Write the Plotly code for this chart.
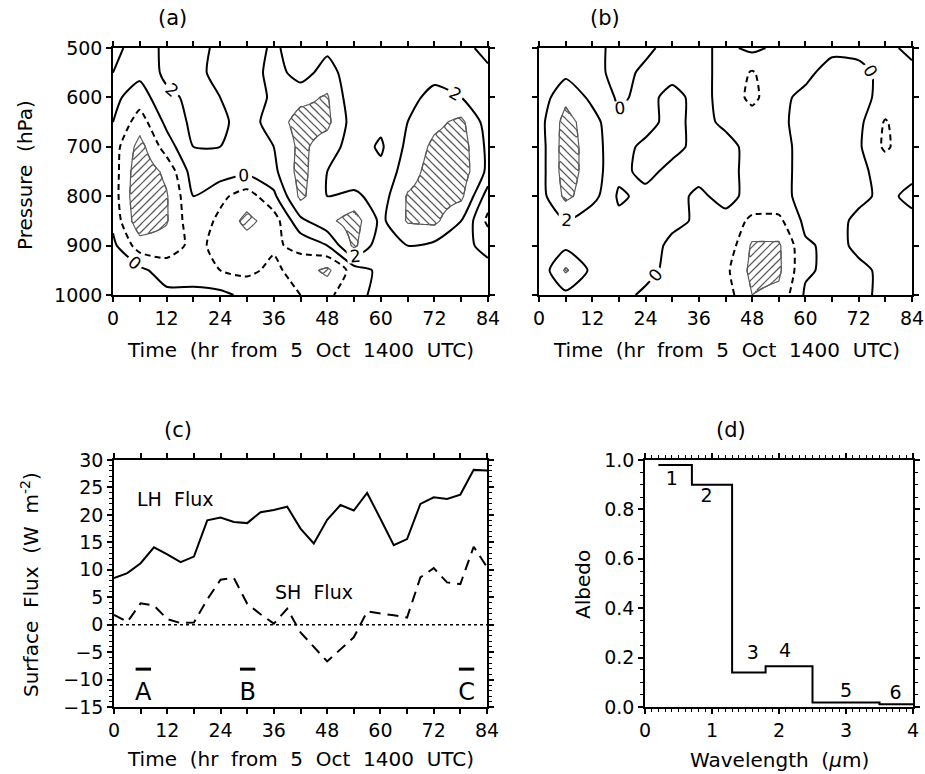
import numpy as np
import plotly.graph_objects as go

# ---------------- data ----------------
time_hours = [0, 6, 12, 18, 24, 30, 36, 42, 48, 54, 60, 66, 72, 78, 84]
pressure_levels = [500, 550, 600, 650, 700, 750, 800, 850, 900, 950, 1000]

# panel (a) field, rows = pressure levels, cols = time
anom_a = [
    [-0.5, 0.8, 2.5, 2.8, 1.5, 0.5, 2.5, 0.5, 1.5, 0.5, 1.0, 0.5, 1.0, 0.5, -0.5],
    [0.0, 0.5, 2.5, 3.0, 1.0, 0.5, 3.0, 1.0, 3.0, 0.5, 1.0, 1.0, 1.5, 0.8, 0.3],
    [0.5, -1.0, 1.5, 2.5, 2.0, 0.5, 2.5, 3.5, 4.2, 0.5, 1.0, 1.5, 2.5, 2.0, 0.5],
    [0.0, -3.0, 0.5, 2.5, 2.5, 1.0, 3.0, 4.8, 4.5, 1.0, 0.5, 2.0, 3.5, 4.5, 1.0],
    [-1.0, -4.8, -1.0, 2.0, 2.0, 1.0, 2.0, 4.5, 3.0, 1.0, -0.3, 2.5, 4.5, 5.0, 1.5],
    [-1.0, -5.5, -3.5, 1.0, 1.0, 0.5, 1.5, 4.8, 2.0, 0.5, 0.5, 3.0, 5.0, 5.2, 1.5],
    [-1.0, -5.8, -4.2, 0.0, -1.5, -3.0, -0.5, 4.5, 2.0, 2.5, 1.0, 4.2, 5.0, 4.5, -1.0],
    [-0.5, -5.5, -4.2, -0.5, -2.5, -4.6, -3.0, 1.5, 3.5, 5.0, 1.5, 4.2, 4.5, 2.0, -2.5],
    [0.5, -3.0, -3.0, -1.5, -2.5, -3.0, -2.3, -1.5, 0.0, 4.5, 0.5, 2.0, 1.5, 0.5, -0.5],
    [1.0, 0.5, -1.0, -1.0, -2.0, -2.5, -1.5, -3.0, -4.5, -1.0, 0.5, 0.5, 0.5, 1.0, 0.5],
    [0.5, 1.5, 0.5, 0.5, 0.5, -0.5, -0.5, -2.0, -2.5, -0.5, 0.5, 1.5, 0.5, 0.5, 0.5],
]

# panel (b) field
anom_b = [
    [0.5, 1.0, 0.5, -0.5, -0.3, 0.5, 0.5, -0.5, 0.5, -0.5, -0.3, -0.3, -0.3, -0.3, 0.3],
    [0.5, 1.5, 0.5, -0.5, 0.3, 0.5, 0.5, -0.5, -2.2, -0.5, -0.3, 0.5, 0.3, -0.3, -0.3],
    [0.8, 3.5, 1.5, -0.3, 0.5, -0.5, 0.5, -0.5, -2.6, -0.3, 0.3, 0.5, 0.5, -0.5, -0.3],
    [1.2, 4.8, 2.8, 0.3, 0.5, -0.5, 0.5, -0.3, -0.8, -0.3, 0.5, 0.5, 0.5, -2.2, -0.3],
    [1.0, 5.0, 3.0, 0.5, -0.3, -0.5, 0.5, 0.5, -0.5, -0.5, 0.5, 0.5, 0.3, -2.4, -0.3],
    [1.0, 5.0, 3.0, 0.5, -0.5, 0.5, 0.5, 0.5, -0.5, -0.5, 0.5, 0.5, 0.3, -0.5, -0.3],
    [1.0, 4.5, 2.8, -0.3, 0.5, 0.5, -0.3, 0.5, -0.5, -0.5, 0.5, 0.5, 0.3, -0.3, 0.3],
    [1.5, 2.0, 0.5, 0.5, 0.5, 0.5, -0.3, -0.5, -2.5, -2.5, 0.5, 0.5, -0.3, -0.3, -0.3],
    [0.5, 1.5, 1.5, 1.0, 1.0, -0.5, -0.5, -0.5, -4.3, -4.3, -0.3, 0.5, -0.3, -0.3, -0.3],
    [0.5, 4.3, 1.5, 1.0, 0.5, -0.5, -0.5, -1.5, -4.6, -4.4, -0.3, 0.5, 0.3, -0.3, -0.3],
    [0.5, 1.5, 1.0, 0.5, -0.3, -0.3, -0.5, -1.0, -4.0, -3.5, 0.3, 0.5, 0.3, -0.3, -0.3],
]

# panel (c) surface fluxes
flux_hours = list(range(0, 85, 3))
lh_flux = [8.5, 9.4, 11.2, 14.1, 12.8, 11.4, 12.4, 19.0, 19.5, 18.7, 18.5, 20.5, 20.9, 21.5,
           17.5, 14.8, 19.1, 21.8, 20.8, 24.0, 19.3, 14.5, 15.6, 22.0, 23.2, 22.9, 23.7, 28.2, 28.1]
sh_flux = [1.8, 0.5, 3.9, 3.5, 1.0, 0.3, 0.4, 4.6, 8.2, 8.5, 3.8, 1.9, 0.2, 2.9,
           -1.4, -4.0, -6.7, -4.5, -2.3, 2.4, 2.1, 1.7, 1.3, 8.6, 10.3, 7.7, 7.4, 14.2, 10.5]
event_hours = [6.6, 30.1, 79.4]
event_names = ["A", "B", "C"]
event_bar_level = -8.1
event_name_level = -12.6

# panel (d) albedo per band
band_edges = [0.2, 0.7, 1.3, 1.8, 2.5, 3.5, 4.0]
band_albedo = [0.98, 0.90, 0.14, 0.165, 0.018, 0.011]
band_ids = ["1", "2", "3", "4", "5", "6"]
band_label_x = [0.40, 0.92, 1.61, 2.09, 3.0, 3.74]
band_label_y = [0.92, 0.85, 0.214, 0.22, 0.058, 0.051]

# ---------------- layout helpers ----------------
W, H = 925, 774
FONT = "DejaVu Sans"


def px(x):
    return x / W


def py(y):
    return 1 - y / H


dom = {
    "a": ([px(113), px(488)], [py(295), py(48)]),
    "b": ([px(539), px(912)], [py(295), py(48)]),
    "c": ([px(114), px(487)], [py(707), py(460)]),
    "d": ([px(645), px(913)], [py(707), py(460)]),
}


def bilinear(z, xs, ys, xf, yf):
    tmp = np.array([np.interp(xf, xs, row) for row in z])
    return np.array([np.interp(yf, ys, tmp[:, j]) for j in range(len(xf))]).T


def contour_panel(fig, z, xa, ya, wpx, hpx):
    z = np.array(z, dtype=float)
    tf = np.linspace(0, 84, 211)
    pf = np.linspace(500, 1000, 141)
    zf = bilinear(z, np.array(time_hours, float), np.array(pressure_levels, float), tf, pf)
    TX, PY = np.meshgrid(tf / 84 * wpx, (pf - 500) / 500 * hpx)
    period = 16.0
    pos = np.minimum(np.cos(2 * np.pi * (TX - PY) / period), 2 * (zf - 4))
    neg = np.minimum(np.cos(2 * np.pi * (TX + PY) / period), 2 * (-4 - zf))
    hatch = np.where(zf > 0, pos, neg)
    common = dict(x=time_hours, y=pressure_levels, xaxis=xa, yaxis=ya,
                  showscale=False, hoverinfo="skip", autocontour=False)
    fig.add_trace(go.Contour(x=tf, y=pf, z=hatch, xaxis=xa, yaxis=ya, showscale=False,
                             hoverinfo="skip", autocontour=False,
                             contours=dict(start=0, end=0, size=1, coloring="none"),
                             line=dict(color="#5a5a5a", width=1.3, smoothing=0)))
    fig.add_trace(go.Contour(x=tf, y=pf, z=zf, xaxis=xa, yaxis=ya, showscale=False,
                             hoverinfo="skip", autocontour=False,
                             contours=dict(start=-4, end=4, size=8, coloring="none"),
                             line=dict(color="#5a5a5a", width=1.2, smoothing=0)))
    fig.add_trace(go.Contour(z=z, **common,
                             contours=dict(start=-2, end=-2, size=1, coloring="none"),
                             line=dict(color="black", width=2, dash="6px,4px", smoothing=0.6)))
    fig.add_trace(go.Contour(z=z, **common,
                             contours=dict(start=0, end=2, size=2, coloring="none",
                                           showlabels=True,
                                           labelfont=dict(family=FONT, size=17, color="black")),
                             line=dict(color="black", width=2, smoothing=0.6)))


fig = go.Figure()
contour_panel(fig, anom_a, "x", "y", 375, 247)
contour_panel(fig, anom_b, "x2", "y2", 373, 247)

# panel c
fig.add_trace(go.Scatter(x=flux_hours, y=lh_flux, mode="lines", xaxis="x3", yaxis="y3",
                         line=dict(color="black", width=2), hoverinfo="skip"))
fig.add_trace(go.Scatter(x=flux_hours, y=sh_flux, mode="lines", xaxis="x3", yaxis="y3",
                         line=dict(color="black", width=2, dash="11px,7px"), hoverinfo="skip"))
fig.add_trace(go.Scatter(x=event_hours, y=[event_bar_level] * len(event_hours), mode="markers",
                         xaxis="x3", yaxis="y3", hoverinfo="skip",
                         marker=dict(symbol="line-ew", size=11, color="black",
                                     line=dict(color="black", width=3))))
fig.add_trace(go.Scatter(x=event_hours, y=[event_name_level] * len(event_hours), mode="text",
                         text=event_names, xaxis="x3", yaxis="y3", hoverinfo="skip",
                         textfont=dict(family=FONT, size=24, color="black")))

# panel d
fig.add_trace(go.Scatter(x=band_edges, y=band_albedo + [band_albedo[-1]], mode="lines",
                         line_shape="hv", xaxis="x4", yaxis="y4",
                         line=dict(color="black", width=2), hoverinfo="skip"))
fig.add_trace(go.Scatter(x=band_label_x, y=band_label_y, mode="text", text=band_ids,
                         xaxis="x4", yaxis="y4", hoverinfo="skip",
                         textfont=dict(family=FONT, size=19, color="black")))

fig.add_shape(type="line", xref="x3", yref="y3", x0=0, x1=84, y0=0, y1=0,
              line=dict(color="black", width=1.5, dash="dot"))

axis_common = dict(showline=True, linecolor="black", linewidth=1.5, mirror="ticks",
                   ticks="outside", ticklen=5, tickwidth=1.5, tickcolor="black",
                   showgrid=False, zeroline=False, automargin=False,
                   tickfont=dict(family=FONT, size=19, color="black"))

time_minor = dict(dtick=6, ticks="outside", ticklen=5, tickwidth=1.5, tickcolor="black")

fig.update_layout(
    width=W, height=H, margin=dict(l=0, r=0, t=0, b=0, pad=0, autoexpand=False),
    paper_bgcolor="white", plot_bgcolor="white", showlegend=False,
    font=dict(family=FONT, size=19, color="black"),
    xaxis=dict(domain=dom["a"][0], anchor="y", range=[0, 84], dtick=12, tick0=0,
               minor=time_minor, **axis_common),
    yaxis=dict(domain=dom["a"][1], anchor="x", range=[1000, 500], dtick=100, tick0=500,
               **axis_common),
    xaxis2=dict(domain=dom["b"][0], anchor="y2", range=[0, 84], dtick=12, tick0=0,
                minor=time_minor, **axis_common),
    yaxis2=dict(domain=dom["b"][1], anchor="x2", range=[1000, 500], dtick=100, tick0=500,
                showticklabels=False, **axis_common),
    xaxis3=dict(domain=dom["c"][0], anchor="y3", range=[0, 84], dtick=12, tick0=0,
                minor=time_minor, **axis_common),
    yaxis3=dict(domain=dom["c"][1], anchor="x3", range=[-15, 30], dtick=5, tick0=0,
                minor=dict(dtick=1, ticks="outside", ticklen=3, tickwidth=1, tickcolor="black"),
                **axis_common),
    xaxis4=dict(domain=dom["d"][0], anchor="y4", range=[0, 4], dtick=1, tick0=0,
                minor=dict(dtick=0.1, ticks="outside", ticklen=3, tickwidth=1, tickcolor="black"),
                **axis_common),
    yaxis4=dict(domain=dom["d"][1], anchor="x4", range=[0, 1.0], dtick=0.2, tick0=0,
                tickformat=".1f",
                minor=dict(dtick=0.05, ticks="outside", ticklen=3, tickwidth=1, tickcolor="black"),
                **axis_common),
)

SP = "\u00a0\u00a0"
time_title = SP.join(["Time", "(hr", "from", "5", "Oct", "1400", "UTC)"])


def ann(text, x, y, size=20, angle=0):
    fig.add_annotation(text=text, x=px(x), y=py(y), xref="paper", yref="paper",
                       showarrow=False, textangle=angle, xanchor="center", yanchor="middle",
                       font=dict(family=FONT, size=size, color="black"))


ann("(a)", 172, 18, 21)
ann("(b)", 605, 18, 21)
ann("(c)", 178, 430, 21)
ann("(d)", 731, 430, 21)
ann(time_title, 300, 350)
ann(time_title, 726, 350)
ann(time_title, 300, 759)
ann(SP.join(["Pressure", "(hPa)"]), 25, 175, 20, -90)
ann(SP.join(["Surface", "Flux", "(W", "m<sup>-2</sup>)"]), 30, 585, 20, -90)
ann("Albedo", 583, 585, 20, -90)
ann(SP.join(["Wavelength", "(<i>μ</i>m)"]), 779, 760)

fig.add_annotation(text=SP.join(["LH", "Flux"]), x=13.8, y=22.9, xref="x3", yref="y3",
                   showarrow=False, font=dict(family=FONT, size=19, color="black"))
fig.add_annotation(text=SP.join(["SH", "Flux"]), x=45, y=5.9, xref="x3", yref="y3",
                   showarrow=False, font=dict(family=FONT, size=19, color="black"))

fig.write_html("out.html")
